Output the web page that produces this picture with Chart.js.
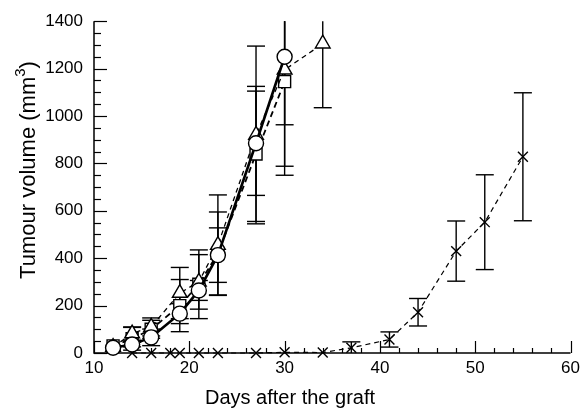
<!DOCTYPE html>
<html>
<head>
<meta charset="utf-8">
<script src="https://cdn.jsdelivr.net/npm/chart.js@4.4.1/dist/chart.umd.min.js"></script>
<style>
html,body{margin:0;padding:0;background:#fff;}
canvas{display:block;}
</style>
</head>
<body>
<canvas id="c" width="585" height="409"></canvas>
<script>
// ---- data ----
const xTitle = "Days after the graft";
const yTitleMain = "Tumour volume (mm";
const yTitleSup = "3";
const yTitleEnd = ")";

const circleDays = [12, 14, 16, 19, 21, 23, 27, 30];
const circleVals = [22, 36, 66, 166, 264, 413, 885, 1250];
const circleErr  = [0, 10, 35, 42, 42, 115, 220, 500];

const triDays = [12, 14, 16, 19, 21, 23, 27, 30, 34];
const triVals = [25, 82, 110, 253, 300, 455, 920, 1195, 1305];
const triErr  = [0, 28, 38, 108, 115, 212, 375, 232, 270];

const sqDays = [12, 14, 16, 19, 21, 23, 27, 30];
const sqVals = [30, 60, 100, 200, 290, 420, 840, 1145];
const sqErr  = [0, 48, 38, 110, 145, 175, 285, 357];

const crossDays = [14, 16, 18, 19, 21, 23, 27, 30, 34, 37, 41, 44, 48, 51, 55];
const crossVals = [0, 0, 0, 0, 0, 0, 0, 3, 2, 22, 57, 172, 430, 552, 828];
const crossErr  = [0, 0, 0, 0, 0, 0, 0, 0, 0, 25, 32, 58, 127, 200, 270];

const xMin = 10, xMax = 60, xMajor = 10, xMinor = 2;
const yMin = 0, yMax = 1400, yMajor = 200, yMinor = 50;

const pts = (xs, ys) => xs.map((x, i) => ({x: x, y: ys[i]}));

const series = [
  {label: 'circle', days: circleDays, vals: circleVals, err: circleErr, style: 'circle', r: 7.5, lw: 2.6, dash: []},
  {label: 'triangle', days: triDays, vals: triVals, err: triErr, style: 'triangle', r: 8.5, lw: 1.3, dash: [5, 4]},
  {label: 'square', days: sqDays, vals: sqVals, err: sqErr, style: 'rect', r: 8.5, lw: 1.8, dash: [6, 4]},
  {label: 'cross', days: crossDays, vals: crossVals, err: crossErr, style: 'crossRot', r: 7, lw: 1.2, dash: [5, 4]}
];

const datasets = series.map(s => ({
  label: s.label,
  data: pts(s.days, s.vals),
  errors: s.err,
  showLine: true,
  borderColor: '#000',
  borderWidth: s.lw,
  borderDash: s.dash,
  pointStyle: s.style,
  pointRadius: s.r,
  pointHoverRadius: s.r,
  pointBackgroundColor: '#fff',
  pointBorderColor: '#000',
  pointBorderWidth: 1.4,
  tension: 0,
  fill: false,
  clip: false
}));

const FONT = "'Liberation Sans', Arial, Helvetica, sans-serif";

const customPlugin = {
  id: 'custom',
  beforeDatasetsDraw(chart) {
    const ctx = chart.ctx;
    const xs = chart.scales.x, ys = chart.scales.y;
    const a = chart.chartArea;
    ctx.save();
    ctx.strokeStyle = '#000';
    ctx.setLineDash([]);
    // axes lines
    ctx.lineWidth = 1.5;
    ctx.beginPath();
    ctx.moveTo(a.left, a.top);
    ctx.lineTo(a.left, a.bottom);
    ctx.lineTo(a.right, a.bottom);
    ctx.stroke();
    // inward ticks
    ctx.lineWidth = 1.2;
    for (let v = yMin; v <= yMax; v += yMinor) {
      const y = Math.round(ys.getPixelForValue(v)) + 0.5;
      const len = (v % yMajor === 0) ? 13 : 7;
      ctx.beginPath();
      ctx.moveTo(a.left, y);
      ctx.lineTo(a.left + len, y);
      ctx.stroke();
    }
    for (let d = xMin; d <= xMax; d += xMinor) {
      const x = Math.round(xs.getPixelForValue(d)) + 0.5;
      const len = (d % xMajor === 0) ? 12 : 5;
      ctx.beginPath();
      ctx.moveTo(x, a.bottom);
      ctx.lineTo(x, a.bottom - len);
      ctx.stroke();
    }
    // error bars
    ctx.lineWidth = 1.4;
    const cap = 9;
    chart.data.datasets.forEach(ds => {
      ds.data.forEach((p, i) => {
        const e = ds.errors[i];
        if (!e) return;
        const x = xs.getPixelForValue(p.x);
        const hiV = p.y + e, loV = Math.max(p.y - e, yMin);
        const yHi = ys.getPixelForValue(Math.min(hiV, yMax));
        const yLo = ys.getPixelForValue(loV);
        ctx.beginPath();
        ctx.moveTo(x, yHi);
        ctx.lineTo(x, yLo);
        ctx.stroke();
        if (hiV <= yMax) {
          ctx.beginPath();
          ctx.moveTo(x - cap, yHi);
          ctx.lineTo(x + cap, yHi);
          ctx.stroke();
        }
        if (p.y - e >= yMin) {
          ctx.beginPath();
          ctx.moveTo(x - cap, yLo);
          ctx.lineTo(x + cap, yLo);
          ctx.stroke();
        }
      });
    });
    ctx.restore();
  },
  afterDraw(chart) {
    const ctx = chart.ctx;
    ctx.save();
    ctx.fillStyle = '#000';
    // x title
    ctx.font = '20px ' + FONT;
    ctx.textAlign = 'center';
    ctx.textBaseline = 'middle';
    ctx.fillText(xTitle, 290, 398);
    // y title with superscript
    ctx.translate(27, 170);
    ctx.rotate(-Math.PI / 2);
    const mainFont = '22px ' + FONT;
    const supFont = '15px ' + FONT;
    ctx.font = mainFont;
    const w1 = ctx.measureText(yTitleMain).width;
    const w3 = ctx.measureText(yTitleEnd).width;
    ctx.font = supFont;
    const w2 = ctx.measureText(yTitleSup).width;
    const total = w1 + w2 + w3;
    let x0 = -total / 2;
    ctx.textAlign = 'left';
    ctx.textBaseline = 'alphabetic';
    ctx.font = mainFont;
    ctx.fillText(yTitleMain, x0, 8);
    ctx.font = supFont;
    ctx.fillText(yTitleSup, x0 + w1, -2);
    ctx.font = mainFont;
    ctx.fillText(yTitleEnd, x0 + w1 + w2, 8);
    ctx.restore();
  }
};

new Chart(document.getElementById('c'), {
  type: 'line',
  data: {datasets: datasets},
  options: {
    responsive: false,
    animation: false,
    devicePixelRatio: 1,
    layout: {padding: {left: 0, right: 10, top: 19, bottom: 0}},
    plugins: {legend: {display: false}, tooltip: {enabled: false}},
    scales: {
      x: {
        type: 'linear',
        min: xMin, max: xMax,
        grid: {display: false, drawTicks: false},
        border: {display: false},
        ticks: {stepSize: xMajor, padding: 5, color: '#000', font: {family: FONT, size: 17}, maxRotation: 0, autoSkip: false,
                callback: v => String(v)},
        afterFit(s) { s.height = 56; }
      },
      y: {
        type: 'linear',
        min: yMin, max: yMax,
        grid: {display: false, drawTicks: false},
        border: {display: false},
        ticks: {stepSize: yMajor, padding: 11, color: '#000', font: {family: FONT, size: 17}, autoSkip: false,
                callback: v => String(v)},
        afterFit(s) { s.width = 94; }
      }
    }
  },
  plugins: [customPlugin]
});
</script>
</body>
</html>
